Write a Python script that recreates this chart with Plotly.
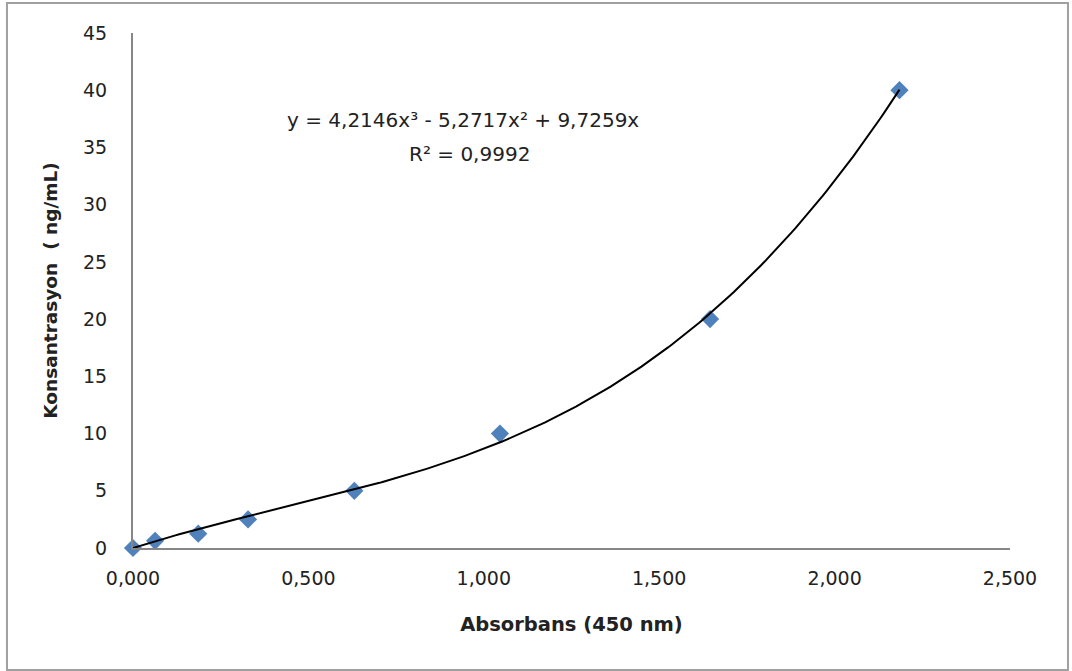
import numpy as np
import plotly.graph_objects as go

absorbance = [0.000, 0.063, 0.186, 0.328, 0.631, 1.046, 1.645, 2.185]
concentration = [0, 0.625, 1.25, 2.5, 5, 10, 20, 40]
# trendline coefficients shown on chart: y = a3 x^3 + a2 x^2 + a1 x
trend_coefs = [4.2146, -5.2717, 9.7259, 0.0]
x_ticks = [0, 0.5, 1.0, 1.5, 2.0, 2.5]
x_tick_labels = ["0,000", "0,500", "1,000", "1,500", "2,000", "2,500"]
y_ticks = [0, 5, 10, 15, 20, 25, 30, 35, 40, 45]

tx = np.linspace(min(absorbance), max(absorbance), 200)
ty = np.polyval(trend_coefs, tx)

FONT = "'DejaVu Sans', sans-serif"

fig = go.Figure()
fig.add_trace(go.Scatter(
    x=absorbance, y=concentration, mode="markers",
    marker=dict(symbol="diamond", size=14, color="#4F81BD"),
    showlegend=False, cliponaxis=False,
))
fig.add_trace(go.Scatter(
    x=tx, y=ty, mode="lines", line=dict(color="black", width=2),
    showlegend=False, cliponaxis=False,
))

fig.update_layout(
    width=1072, height=671,
    margin=dict(l=133, r=62, t=33, b=123),
    paper_bgcolor="white", plot_bgcolor="white",
    font=dict(family=FONT, size=19, color="#222222"),
    xaxis=dict(
        range=[0, 2.5], tickvals=x_ticks, ticktext=x_tick_labels,
        showgrid=False, zeroline=False, showline=True,
        linecolor="#868686", linewidth=2, ticks="", ticklabelstandoff=12,
        tickfont=dict(size=19),
        title=dict(text="<b>Absorbans (450 nm)</b>", font=dict(size=19.5, family=FONT), standoff=30),
    ),
    yaxis=dict(
        range=[0, 45], tickvals=y_ticks,
        showgrid=False, zeroline=False, showline=True,
        linecolor="#868686", linewidth=2, ticks="", ticklabelstandoff=20,
        tickfont=dict(size=19),
        title=dict(text="<b>Konsantrasyon  ( ng/mL)</b>", font=dict(size=18.5, family=FONT), standoff=21),
    ),
    annotations=[
        dict(x=0.376, y=0.831, xref="paper", yref="paper", showarrow=False,
             text="y = 4,2146x³ - 5,2717x² + 9,7259x",
             font=dict(size=20, family=FONT, color="#222222"),
             xanchor="center", yanchor="middle"),
        dict(x=0.384, y=0.765, xref="paper", yref="paper", showarrow=False,
             text="R² = 0,9992",
             font=dict(size=20, family=FONT, color="#222222"),
             xanchor="center", yanchor="middle"),
    ],
    shapes=[
        dict(type="rect", xref="paper", yref="paper",
             x0=-0.1437, x1=1.0661, y0=-0.2369, y1=1.0583,
             line=dict(color="#A0A0A0", width=2), fillcolor="rgba(0,0,0,0)", layer="below"),
    ],
)

fig.write_html("out.html", config={"displayModeBar": False},
               post_script="document.body.style.margin='0px';")
